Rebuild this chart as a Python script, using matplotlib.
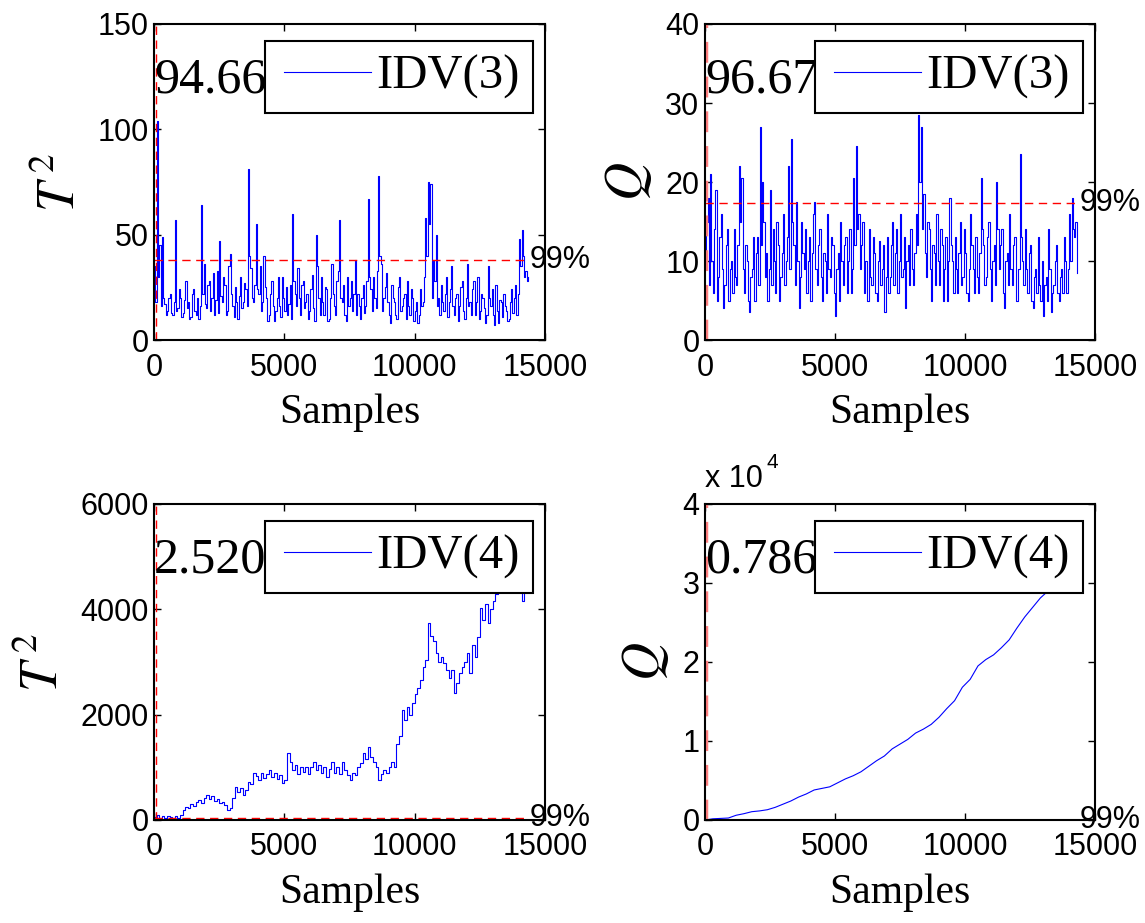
import numpy as np
import matplotlib.pyplot as plt
from matplotlib.lines import Line2D
from matplotlib.legend_handler import HandlerLine2D

plt.rcParams['mathtext.fontset'] = 'stix'

# T^2 statistic, fault IDV(3), one value every 50 samples
t2_idv3 = [35, 18, 104, 30, 45, 16, 49, 20, 17, 12, 14, 20, 22, 13, 12, 18, 57, 14, 15, 24,
           20, 11, 13, 19, 28, 15, 18, 10, 11, 22, 24, 14, 12, 20, 10, 16, 64, 22, 36, 17,
           15, 26, 28, 14, 20, 32, 12, 19, 33, 13, 47, 21, 18, 30, 26, 12, 14, 35, 41, 22,
           16, 11, 25, 18, 10, 21, 30, 15, 18, 27, 24, 16, 81, 40, 34, 20, 18, 26, 55, 24,
           22, 35, 14, 18, 40, 25, 20, 9, 12, 22, 28, 16, 9, 14, 20, 30, 16, 11, 30, 20,
           14, 25, 12, 17, 26, 10, 60, 28, 22, 16, 34, 20, 12, 26, 28, 15, 18, 22, 10, 14,
           24, 31, 15, 9, 50, 35, 20, 12, 30, 18, 12, 25, 24, 9, 10, 20, 36, 22, 16, 12,
           28, 33, 57, 20, 18, 26, 12, 9, 30, 16, 20, 28, 14, 22, 38, 12, 22, 16, 10, 20,
           26, 13, 16, 28, 67, 30, 24, 14, 30, 20, 15, 33, 78, 40, 36, 14, 20, 25, 32, 18,
           12, 8, 26, 20, 18, 12, 10, 25, 30, 14, 16, 20, 22, 10, 28, 16, 12, 24, 20, 9,
           14, 18, 8, 12, 24, 16, 18, 30, 58, 40, 75, 55, 74, 20, 38, 28, 50, 16, 20, 12,
           26, 18, 14, 22, 30, 11, 18, 24, 35, 16, 12, 20, 22, 9, 16, 25, 28, 14, 10, 20,
           36, 16, 18, 12, 24, 28, 12, 18, 30, 10, 14, 22, 20, 15, 8, 12, 35, 20, 16, 24,
           12, 7, 26, 14, 8, 19, 18, 11, 22, 16, 14, 9, 10, 18, 24, 13, 20, 26, 12, 22,
           48, 35, 52, 40, 30, 33, 28, 30]

# Q statistic, fault IDV(3), one value every 50 samples
q_idv3 = [9, 15, 18, 7, 21, 10, 6, 14, 19, 5, 8, 13, 16, 9, 4, 7, 12, 14, 5, 9,
          10, 6, 14, 8, 7, 12, 22, 15, 20.5, 9, 6, 12, 10, 5, 3.5, 8, 9, 13, 5, 11,
          13, 7, 27, 12, 20, 15, 8, 11, 5, 9, 19, 7, 14, 10, 6, 15, 12, 5, 8, 11,
          16, 7, 10, 13, 22, 9, 25.5, 15, 12, 7, 17.5, 10, 4, 8, 15, 11, 9, 14, 6, 10,
          13, 5, 11, 16, 17.5, 9, 7, 12, 14, 8, 5, 11, 10, 6, 16, 9, 8, 13, 12, 6,
          3, 9, 11, 5, 15, 10, 7, 12, 13, 6, 10, 14, 6, 9, 20.5, 12, 24.5, 14, 16, 9,
          12, 15, 6, 10, 10, 5, 14, 8, 7, 13, 11, 6, 5, 10, 12.5, 7, 9, 12, 3.5, 8,
          13, 6, 8, 12, 15, 7, 11, 14, 6, 10, 16, 8, 9, 13, 4, 10, 12, 7, 14, 9,
          7, 11, 16, 12, 28.5, 20, 27, 14, 18.5, 11, 8, 15, 14, 9, 5, 12, 11, 7, 16, 10,
          7, 14, 12, 5, 9, 13, 5, 10, 18, 12, 10, 6, 13, 9, 6, 11, 15, 7, 8, 14,
          11, 6, 5, 9, 16, 12, 9, 6, 13, 8, 6, 11, 20.5, 14, 12, 7, 8, 13, 15, 9,
          5, 10, 12, 7, 20, 14, 9, 12, 14, 6, 4, 10, 11, 7, 16, 9, 7, 12, 13, 5,
          5, 9, 23.5, 13, 10, 7, 14, 9, 6, 11, 12, 5, 4, 8, 9, 6, 13, 7, 5, 10,
          3, 7, 8, 5, 14, 9, 3.5, 6, 7, 10, 12, 6, 5, 8, 9, 6, 13, 10, 6, 9,
          16, 10, 18, 14, 13, 15, 8.5]

# T^2 statistic, fault IDV(4), one value every 100 samples
t2_idv4 = [60, 100, 40, 70, 30, 80, 50, 40, 70, 40, 90, 190, 250, 220, 300, 260, 340, 380, 330, 420,
           470, 400, 460, 360, 400, 320, 350, 280, 190, 230, 420, 630, 540, 600, 480, 570, 720, 680, 900, 830,
           760, 900, 800, 880, 950, 820, 900, 780, 860, 700, 760, 1265, 1100, 950, 1050, 880, 1000, 920, 1010, 880,
           1000, 1105, 950, 1050, 900, 1000, 820, 960, 1100, 900, 1000, 880, 1105, 950, 860, 760, 900, 850, 1000, 1080,
           1265, 1150, 1390, 1200, 1100, 1000, 760, 880, 950, 900, 1010, 1100, 1000, 1450, 1600, 2090, 1900, 2150, 2000, 2215,
           2400, 2500, 2660, 2900, 3040, 3735, 3500, 3400, 3165, 3000, 3100, 2975, 2850, 2700, 2850, 2405, 2600, 2785, 2900, 3000,
           3165, 2800, 3320, 3100, 3480, 4020, 3800, 4100, 3735, 4000, 4150, 4300, 4450, 4500, 4600, 4700, 4550, 4600, 4700, 4500,
           4400, 4150, 4500, 4400]

# Q statistic, fault IDV(4), one value every 300 samples
q_idv4 = [0, 150, 200, 250, 600, 800, 1050, 1150, 1300, 1600, 2000, 2400, 2900, 3300, 3800, 4000, 4200,
          4700, 5200, 5600, 6100, 6800, 7500, 8100, 9000, 9600, 10200, 11000, 11500, 12100, 13000, 14100,
          15100, 16800, 17800, 19500, 20300, 20900, 21800, 22800, 24300, 25700, 26900, 28100, 29000, 29800,
          30500, 31200, 31800]

limits = [37.9, 17.4, 37.9, 17.4]
rates = ['94.66', '96.67', '2.520', '0.786']
faults = ['IDV(3)', 'IDV(3)', 'IDV(4)', 'IDV(4)']
ylabels = [r'$T^{\,2}$', r'$Q$', r'$T^{\,2}$', r'$Q$']
yticks = [[0, 50, 100, 150], [0, 10, 20, 30, 40],
          [0, 2000, 4000, 6000], [0, 10000, 20000, 30000, 40000]]
yticklabels = [['0', '50', '100', '150'], ['0', '10', '20', '30', '40'],
               ['0', '2000', '4000', '6000'], ['0', '1', '2', '3', '4']]

series = [(np.arange(len(t2_idv3)) * 50, t2_idv3, 'steps-post'),
          (np.arange(len(q_idv3)) * 50, q_idv3, 'steps-post'),
          (np.arange(len(t2_idv4)) * 100, t2_idv4, 'steps-post'),
          (np.arange(len(q_idv4)) * 300, q_idv4, 'default')]

boxes = [[0.1345, 0.6316, 0.3415, 0.3424], [0.6157, 0.6316, 0.3406, 0.3424],
         [0.1345, 0.1116, 0.3415, 0.3424], [0.6157, 0.1116, 0.3406, 0.3424]]

sans = 'Liberation Sans'
serif = 'Liberation Serif'

fig = plt.figure(figsize=(11.45, 9.23), dpi=100)

for i in range(4):
    ax = fig.add_axes(boxes[i])
    x, y, ds = series[i]
    ax.plot(x, y, color='blue', lw=0.8, drawstyle=ds, label=faults[i])
    ax.plot([0, 14400], [limits[i], limits[i]], color='red', lw=1, ls=(0, (6, 4)))
    if i % 2 == 0:
        ax.axvline(80, color='red', lw=1, ls=(0, (6, 4)))
    else:
        ax.axvline(40, color='#ff7f7f', lw=2.5, ls=(0, (6, 4)))
    ax.text(14400, limits[i], '99%', fontsize=22, family=sans, va='center', ha='left')
    ax.text(0.0, 0.782, rates[i], transform=ax.transAxes, fontsize=36, family=serif,
            va='baseline', ha='left')

    ax.set_xlim(0, 15000)
    ax.set_ylim(yticks[i][0], yticks[i][-1])
    ax.set_xticks([0, 5000, 10000, 15000])
    ax.set_xticklabels(['0', '5000', '10000', '15000'], family=sans, fontsize=22)
    ax.set_yticks(yticks[i])
    ax.set_yticklabels(yticklabels[i], family=sans, fontsize=22)
    ax.tick_params(direction='in', length=5, width=1, top=True, right=True)
    ax.tick_params(axis='x', pad=9)
    ax.tick_params(axis='y', pad=4)
    for s in ax.spines.values():
        s.set_linewidth(1.5)

    ax.set_xlabel('Samples', family=serif, fontsize=30, labelpad=8)
    ax.set_ylabel(ylabels[i], fontsize=38, labelpad=8)

    leg = ax.legend(loc='upper right', bbox_to_anchor=(0.97, 0.946), borderaxespad=0,
                    prop={'family': serif, 'size': 35}, fancybox=False, framealpha=1,
                    edgecolor='black', borderpad=0.285, handlelength=2.0, handletextpad=0.0,
                    handler_map={Line2D: HandlerLine2D(marker_pad=0.105, numpoints=2)})
    leg.get_frame().set_linewidth(1.5)

    if i == 3:
        ax.text(0.0, 1.054, 'x 10', transform=ax.transAxes, fontsize=22, family=sans,
                va='baseline', ha='left')
        ax.text(0.158, 1.115, '4', transform=ax.transAxes, fontsize=15, family=sans,
                va='baseline', ha='left')

fig.savefig('out.png', dpi=100)
